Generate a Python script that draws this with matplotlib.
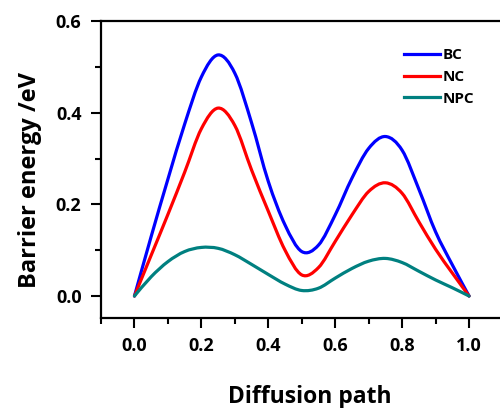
import numpy as np
import matplotlib
matplotlib.use("Agg")
import matplotlib.pyplot as plt
from matplotlib.path import Path
from matplotlib.patches import PathPatch
from matplotlib.lines import Line2D
from matplotlib.ticker import MultipleLocator

# values
path_x = [0.0, 0.05, 0.10, 0.15, 0.20, 0.25, 0.30, 0.35, 0.40, 0.45, 0.50,
          0.55, 0.60, 0.65, 0.70, 0.75, 0.80, 0.85, 0.90, 0.95, 1.0]
bc = [0.0, 0.13, 0.255, 0.375, 0.478, 0.526, 0.486, 0.378, 0.25, 0.155, 0.097,
      0.111, 0.177, 0.257, 0.322, 0.348, 0.318, 0.233, 0.14, 0.068, 0.0]
nc = [0.0, 0.089, 0.178, 0.27, 0.365, 0.41, 0.372, 0.275, 0.185, 0.10, 0.046,
      0.062, 0.119, 0.177, 0.228, 0.247, 0.224, 0.162, 0.102, 0.05, 0.0]
npc = [0.0, 0.042, 0.075, 0.097, 0.106, 0.104, 0.09, 0.069, 0.047, 0.026, 0.012,
       0.017, 0.039, 0.06, 0.076, 0.082, 0.073, 0.054, 0.035, 0.018, 0.0]

labels = ["BC", "NC", "NPC"]
colors = ["#0000ff", "#ff0000", "#008080"]

plt.rcParams['font.family'] = ['Open Sans', 'DejaVu Sans']
plt.rcParams['font.weight'] = 'bold'


def smooth_path(x, y):
    """spline-connected line (Catmull-Rom as cubic bezier segments) through the data points"""
    pts = np.column_stack([np.asarray(x, float), np.asarray(y, float)])
    verts = [pts[0]]
    codes = [Path.MOVETO]
    n = len(pts)
    for i in range(n - 1):
        p0 = pts[i - 1] if i > 0 else pts[i]
        p1 = pts[i]
        p2 = pts[i + 1]
        p3 = pts[i + 2] if i + 2 < n else pts[i + 1]
        verts += [p1 + (p2 - p0) / 6.0, p2 - (p3 - p1) / 6.0, p2]
        codes += [Path.CURVE4] * 3
    return Path(verts, codes)


fig = plt.figure(figsize=(5.0, 4.08), dpi=100)
ax = fig.add_axes([0.202, 0.2206, 0.803, 0.7279])

handles = []
for ys, lab, col in zip([bc, nc, npc], labels, colors):
    ax.add_patch(PathPatch(smooth_path(path_x, ys), fill=False, edgecolor=col,
                           lw=2.3, capstyle='round', joinstyle='round'))
    handles.append(Line2D([], [], color=col, lw=2.3, label=lab))

ax.set_xlim(-0.1, 1.1)
ax.set_ylim(-0.048, 0.6)
ax.xaxis.set_minor_locator(MultipleLocator(0.1))
ax.yaxis.set_minor_locator(MultipleLocator(0.1))
ax.set_xticks(np.arange(0, 1.01, 0.2))
ax.set_xticklabels(["0.0", "0.2", "0.4", "0.6", "0.8", "1.0"])
ax.set_yticks([0.0, 0.2, 0.4, 0.6])
ax.set_yticklabels(["0.0", "0.2", "0.4", "0.6"])

for side in ['left', 'bottom', 'top']:
    ax.spines[side].set_linewidth(1.6)
ax.spines['right'].set_visible(False)
ax.tick_params(which='major', direction='out', length=7, width=1.5, labelsize=13, pad=7)
ax.tick_params(which='minor', direction='out', length=4, width=1.5)
ax.tick_params(top=False, right=False)
for t in ax.get_xticklabels() + ax.get_yticklabels():
    t.set_fontweight('bold')

ax.set_xlabel("Diffusion path", fontsize=16.5, fontweight='bold')
ax.xaxis.set_label_coords(0.52, -0.225)
ax.set_ylabel("Barrier energy /eV", fontsize=17, fontweight='bold')
ax.yaxis.set_label_coords(-0.148, 0.465)

ax.legend(handles=handles, loc='upper left', bbox_to_anchor=(0.78, 0.915),
          bbox_transform=fig.transFigure, frameon=False,
          handlelength=2.4, handletextpad=0.15, labelspacing=0.5,
          prop={'weight': 'bold', 'size': 11})

plt.savefig("out.png", dpi=100)
